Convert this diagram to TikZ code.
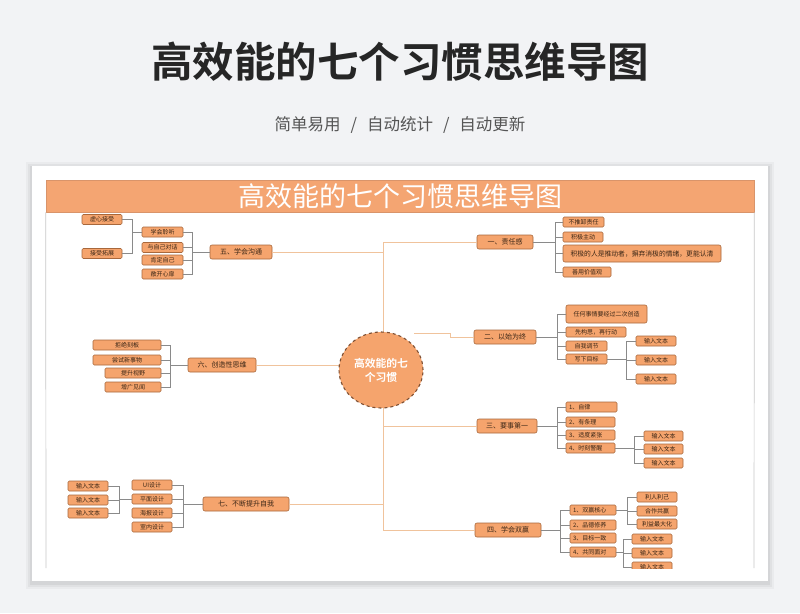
\documentclass[tikz,border=0pt]{standalone}
\usepackage{fontspec}
\setmainfont{Noto Sans CJK SC}[BoldFont={Noto Sans CJK SC Bold}]
\usetikzlibrary{shapes.geometric}
\definecolor{bgc}{HTML}{F2F3F5}
\definecolor{hdr}{HTML}{F4A572}
\definecolor{hdrb}{HTML}{D9946A}
\definecolor{nodef}{HTML}{F5A46D}
\definecolor{nodeb}{HTML}{A8683C}
\definecolor{ntext}{HTML}{3A2616}
\definecolor{trk}{HTML}{F0C39C}
\definecolor{gln}{HTML}{8A8A8A}
\definecolor{frm}{HTML}{C8C8C8}
\definecolor{ctrb}{HTML}{7E5034}
\definecolor{subc}{HTML}{555555}
\begin{document}
\begin{tikzpicture}[x=1pt,y=-1pt,
  leaf/.style={draw=nodeb, fill=nodef, rounded corners=1.3pt, line width=0.6pt,
    minimum height=10pt, inner sep=0pt, text=ntext, font=\fontsize{6}{7}\selectfont},
  lleaf/.style={leaf, align=left, inner xsep=3pt},
  mainb/.style={leaf, minimum height=14pt, rounded corners=2pt, font=\fontsize{7}{8}\selectfont},
  gl/.style={draw=gln, line width=0.6pt},
  trunk/.style={draw=trk, line width=0.9pt}]
\useasboundingbox (0,0) rectangle (800,613);
\fill[bgc] (0,0) rectangle (800,613);
% titles
\node (title) at (400,62) {\fontsize{41.5}{46}\selectfont\bfseries\color{black!85}高效能的七个习惯思维导图};
\node (sub) at (400,125) {\fontsize{16.5}{18}\selectfont\color{subc}简单易用\hspace{10pt}/\hspace{10pt}自动统计\hspace{10pt}/\hspace{10pt}自动更新};
% card with soft shadow
\foreach \d/\o in {6/0.03,4/0.04,2/0.05}{
  \fill[black,opacity=\o] (32-\d,166-\d+2) rectangle (768+\d,581+\d+2);
}
\fill[white] (32,166) rectangle (768,581);
% header bar
\node[draw=hdrb, fill=hdr, line width=0.6pt, minimum width=708pt, minimum height=32pt, inner sep=0pt,
  text=white, font=\fontsize{27}{30}\selectfont] (hbar) at (400,196) {高效能的七个习惯思维导图};
\draw[frm, line width=0.7pt] (hbar.south west) -- (46,568);
\draw[frm, line width=0.7pt] (hbar.south east) -- (754,568);
\begin{scope}
\clip (46,212) rectangle (754,568);
% main branches
\node[mainb, minimum width=56] (b1) at (505,242) {一、责任感};
\node[mainb, minimum width=62] (b2) at (505,337) {二、以始为终};
\node[mainb, minimum width=60] (b3) at (507,426) {三、要事第一};
\node[mainb, minimum width=66] (b4) at (508,530) {四、学会双赢};
\node[mainb, minimum width=62] (b5) at (241,252) {五、学会沟通};
\node[mainb, minimum width=68] (b6) at (222,365) {六、创造性思维};
\node[mainb, minimum width=86] (b7) at (246,504) {七、不断提升自我};
% trunk
\coordinate (tt) at (383,242);
\coordinate (tb) at (383,530);
\draw[trunk] (tt) -- (tb);
\draw[trunk] (tt) -- (b1.west);
\draw[trunk] (b5.east) -- (b5.east -| tt);
\draw[trunk] (b3.west -| tt) -- (b3.west);
\draw[trunk] (tb) -- (b4.west);
\draw[trunk] (b7.east) -- (b7.east -| tt);
\draw[trunk] (b6.east) -- (b6.east -| tt);
\coordinate (e2) at (414,333);
\coordinate (k2) at (450,333);
\draw[trunk] (e2) -- (k2) |- (b2.west);
% centre
\node[ellipse, draw=ctrb, dashed, line width=1.1pt, fill=nodef, minimum width=84pt, minimum height=76pt,
  inner sep=0pt, text=white, align=center, font=\fontsize{10.8}{14}\selectfont\bfseries] (ctr) at (381,370) {高效能的七\\个习惯};
% group 1
\node[leaf, minimum width=41] (a1) at (583.5,222) {不推卸责任};
\node[leaf, minimum width=40] (a2) at (583,237) {积极主动};
\node[leaf, minimum width=158, minimum height=17, rounded corners=2pt, font=\fontsize{6.8}{8}\selectfont] (a3) at (642,253.5) {积极的人是推动者，摒弃消极的情绪，更能认清};
\node[leaf, minimum width=48] (a4) at (587,272) {善用价值观};
\coordinate (k1) at (555,242);
\draw[gl] (b1.east) -- (k1);
\foreach \c in {a1,a2,a3,a4} \draw[gl] (k1) |- (\c.west);
% group 2
\node[leaf, minimum width=81, minimum height=18, rounded corners=2pt] (c1) at (606.5,314) {任何事情要经过二次创造};
\node[leaf, minimum width=60] (c2) at (596,332) {先构思，再行动};
\node[leaf, minimum width=41] (c3) at (586.5,346) {自我调节};
\node[leaf, minimum width=41] (c4) at (586.5,359) {写下目标};
\coordinate (kb2) at (557,337);
\draw[gl] (b2.east) -- (kb2);
\foreach \c in {c1,c2,c3,c4} \draw[gl] (kb2) |- (\c.west);
\node[leaf, minimum width=40] (c41) at (656,341) {输入文本};
\node[leaf, minimum width=40] (c42) at (656,360) {输入文本};
\node[leaf, minimum width=40] (c43) at (656,379) {输入文本};
\coordinate (kc4) at (626,359);
\draw[gl] (c4.east) -- (kc4);
\foreach \c in {c41,c42,c43} \draw[gl] (kc4) |- (\c.west);
% group 3
\node[lleaf, text width=45pt] (d1) at (591.5,407) {1、自律};
\node[lleaf, text width=43pt] (d2) at (590.5,422) {2、有条理};
\node[lleaf, text width=43pt] (d3) at (590.5,435) {3、适度紧张};
\node[lleaf, text width=43pt] (d4) at (590.5,448) {4、时刻警醒};
\coordinate (kb3) at (557,426);
\draw[gl] (b3.east) -- (kb3);
\foreach \c in {d1,d2,d3,d4} \draw[gl] (kb3) |- (\c.west);
\node[leaf, minimum width=39] (d41) at (663.5,436) {输入文本};
\node[leaf, minimum width=39] (d42) at (663.5,449) {输入文本};
\node[leaf, minimum width=39] (d43) at (663.5,463) {输入文本};
\coordinate (kd4) at (634,448);
\draw[gl] (d4.east) -- (kd4);
\foreach \c in {d41,d42,d43} \draw[gl] (kd4) |- (\c.west);
% group 4
\node[lleaf, text width=40pt] (f1) at (593,510) {1、双赢核心};
\node[lleaf, text width=40pt] (f2) at (593,525) {2、品德修养};
\node[lleaf, text width=40pt] (f3) at (593,538) {3、目标一致};
\node[lleaf, text width=40pt] (f4) at (593,552) {4、共同面对};
\coordinate (kb4) at (560,530);
\draw[gl] (b4.east) -- (kb4);
\foreach \c in {f1,f2,f3,f4} \draw[gl] (kb4) |- (\c.west);
\node[leaf, minimum width=40] (f11) at (657,497) {利人利己};
\node[leaf, minimum width=40] (f12) at (657,511) {合作共赢};
\node[leaf, minimum width=40] (f13) at (657,524) {利益最大化};
\coordinate (kf1) at (627,510);
\draw[gl] (f1.east) -- (kf1);
\foreach \c in {f11,f12,f13} \draw[gl] (kf1) |- (\c.west);
\node[leaf, minimum width=40] (f41) at (652,539) {输入文本};
\node[leaf, minimum width=40] (f42) at (652,553) {输入文本};
\node[leaf, minimum width=40] (f43) at (652,567) {输入文本};
\coordinate (kf4) at (623,552);
\draw[gl] (f4.east) -- (kf4);
\foreach \c in {f41,f42,f43} \draw[gl] (kf4) |- (\c.west);
% group 5
\node[leaf, minimum width=41] (g1) at (162.5,232) {学会聆听};
\node[leaf, minimum width=41] (g2) at (162.5,247.5) {与自己对话};
\node[leaf, minimum width=41] (g3) at (162.5,260) {肯定自己};
\node[leaf, minimum width=41] (g4) at (162.5,274) {敞开心扉};
\coordinate (kb5) at (192,252);
\draw[gl] (b5.west) -- (kb5);
\foreach \c in {g1,g2,g3,g4} \draw[gl] (kb5) |- (\c.east);
\node[leaf, minimum width=40] (g11) at (102,219.5) {虚心接受};
\node[leaf, minimum width=40] (g12) at (102,253.5) {接受拓展};
\coordinate (kg1) at (132,232);
\draw[gl] (g1.west) -- (kg1);
\foreach \c in {g11,g12} \draw[gl] (kg1) |- (\c.east);
% group 6
\node[leaf, minimum width=68] (h1) at (127,345) {拒绝刻板};
\node[leaf, minimum width=68] (h2) at (127,360) {尝试新事物};
\node[leaf, minimum width=56] (h3) at (133,373) {提升视野};
\node[leaf, minimum width=56] (h4) at (133,387) {增广见闻};
\coordinate (kb6) at (170,365);
\draw[gl] (b6.west) -- (kb6);
\foreach \c in {h1,h2,h3,h4} \draw[gl] (kb6) |- (\c.east);
% group 7
\node[leaf, minimum width=40] (m1) at (152,485) {UI设计};
\node[leaf, minimum width=40] (m2) at (152,499) {平面设计};
\node[leaf, minimum width=40] (m3) at (152,513) {海报设计};
\node[leaf, minimum width=40] (m4) at (152,527) {室内设计};
\coordinate (kb7) at (183,504);
\draw[gl] (b7.west) -- (kb7);
\foreach \c in {m1,m2,m3,m4} \draw[gl] (kb7) |- (\c.east);
\node[leaf, minimum width=40] (m21) at (88,486) {输入文本};
\node[leaf, minimum width=40] (m22) at (88,500) {输入文本};
\node[leaf, minimum width=40] (m23) at (88,513) {输入文本};
\coordinate (km2) at (119,499);
\draw[gl] (m2.west) -- (km2);
\foreach \c in {m21,m22,m23} \draw[gl] (km2) |- (\c.east);
\end{scope}
\end{tikzpicture}
\end{document}
